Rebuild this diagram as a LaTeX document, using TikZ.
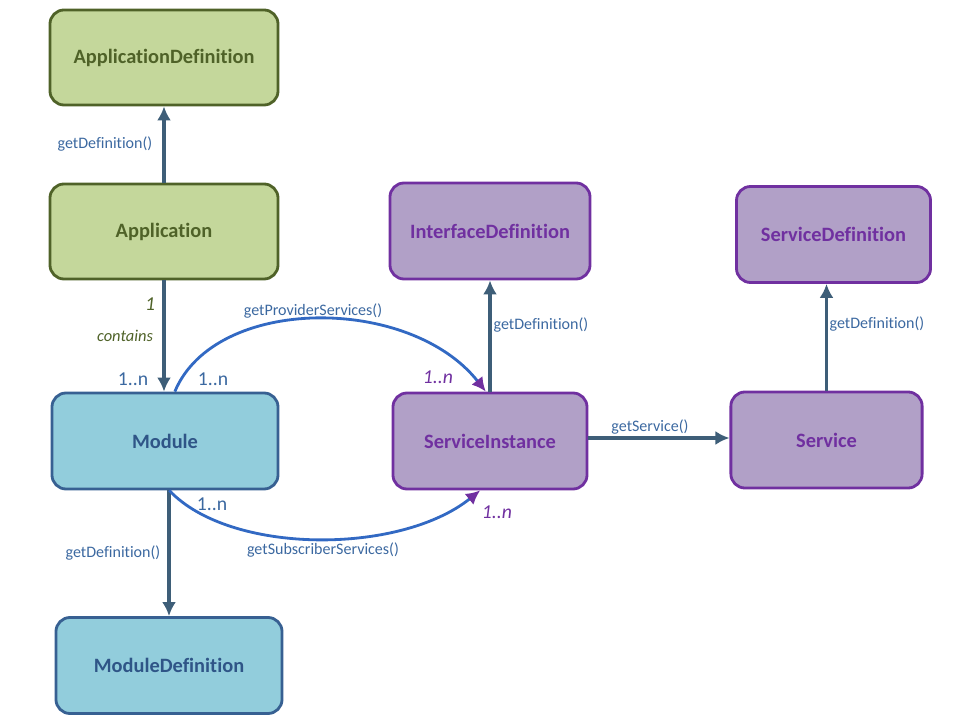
\documentclass[tikz,border=0pt]{standalone}
\usepackage{fontspec}
\setmainfont{Carlito}[Ligatures={NoCommon}]
\usetikzlibrary{arrows.meta}
\definecolor{figVerde}{RGB}{196,215,155}
\definecolor{figVerdeBorde}{RGB}{79,98,40}
\definecolor{figAzul}{RGB}{146,205,220}
\definecolor{figAzulBorde}{RGB}{55,96,146}
\definecolor{figAzulTexto}{RGB}{47,85,135}
\definecolor{figVioleta}{RGB}{177,160,199}
\definecolor{figVioletaBorde}{RGB}{112,48,160}
\definecolor{figFlecha}{RGB}{62,94,120}
\definecolor{figCurva}{RGB}{50,105,195}
\definecolor{figEtiqueta}{RGB}{59,104,160}
\tikzset{
  bloquev/.style={
    rectangle, rounded corners=10pt, draw=figVerdeBorde, line width=2pt,
    fill=figVerde, text=figVerdeBorde, minimum height=2.375cm, minimum width=5.7cm,
    align=center, font=\fontsize{14.5}{17}\selectfont\bfseries, inner sep=4pt
  },
  bloquea/.style={
    rectangle, rounded corners=10pt, draw=figAzulBorde, line width=2pt,
    fill=figAzul, text=figAzulTexto, minimum height=2.4cm, minimum width=5.65cm,
    align=center, font=\fontsize{14.5}{17}\selectfont\bfseries, inner sep=4pt
  },
  bloquei/.style={
    rectangle, rounded corners=10pt, draw=figVioletaBorde, line width=2pt,
    fill=figVioleta, text=figVioletaBorde, minimum height=2.4cm, minimum width=4.85cm,
    align=center, font=\fontsize{14.5}{17}\selectfont\bfseries, inner sep=4pt
  },
  flecha/.style={-{Latex[length=10pt,width=10pt]}, line width=2.2pt, draw=figFlecha},
  curva/.style={-{Latex[length=10pt,width=10pt,color=figVioletaBorde]}, line width=2pt, draw=figCurva},
  etiqueta/.style={font=\fontsize{11.4}{13}\selectfont, text=figEtiqueta, inner sep=1pt},
  cardv/.style={font=\fontsize{11.7}{14}\selectfont\itshape, text=figVerdeBorde, inner sep=1pt},
  cardi/.style={font=\fontsize{14}{16}\selectfont\itshape, text=figVioletaBorde, inner sep=1pt},
  carda/.style={font=\fontsize{14}{16}\selectfont, text=figEtiqueta, inner sep=1pt}
}
\begin{document}
\begin{tikzpicture}[x=0.025cm, y=-0.025cm]
  \useasboundingbox (0,0) rectangle (960,720);
  % bloques
  \node[bloquev] (appdef) at (164,57.5) {ApplicationDefinition};
  \node[bloquev] (app) at (164,231.5) {Application};
  \node[bloquea] (mod) at (165,441) {Module};
  \node[bloquea] (moddef) at (169,665.5) {ModuleDefinition};
  \node[bloquei, minimum width=5cm] (idef) at (490,231) {InterfaceDefinition};
  \node[bloquei] (si) at (490,441) {ServiceInstance};
  \node[bloquei] (sdef) at (833.5,234.5) {ServiceDefinition};
  \node[bloquei, minimum width=4.78cm] (svc) at (826.5,440) {Service};
  % conexiones
  \draw[flecha] (app.north) -- (appdef.south);
  \draw[flecha] (app.south) -- (app.south |- mod.north);
  \draw[flecha] (moddef.north |- mod.south) -- (moddef.north);
  \draw[flecha] (si.north) -- (idef.south);
  \draw[flecha] (svc.north) -- (svc.north |- sdef.south);
  \draw[flecha] (si.east |- 0,438) -- (svc.west |- 0,438);
  \draw[curva] ([xshift=7]mod.north) .. controls (215,295) and (410,295) .. ([xshift=-3]si.north);
  \draw[curva] ([xshift=3]mod.south) .. controls (230,555) and (400,555) .. ([xshift=-7]si.south);
  % etiquetas
  \node[etiqueta] (l1) at (105,144) {getDefinition()};
  \node[cardv, font=\fontsize{14}{16}\selectfont\itshape] (l2) at (150,304) {1};
  \node[cardv] (l3) at (125,336) {contains};
  \node[carda] (l4) at (133,379) {1..n};
  \node[carda] (l5) at (213,379) {1..n};
  \node[etiqueta] (l6) at (313,311) {getProviderServices()};
  \node[cardi] (l7) at (438,377) {1..n};
  \node[etiqueta] (l8) at (541,325) {getDefinition()};
  \node[etiqueta] (l9) at (650,427) {getService()};
  \node[etiqueta] (l10) at (877,324) {getDefinition()};
  \node[carda] (l11) at (212,504) {1..n};
  \node[cardi] (l12) at (497,512) {1..n};
  \node[etiqueta] (l13) at (323,550) {getSubscriberServices()};
  \node[etiqueta] (l14) at (113,553) {getDefinition()};
\end{tikzpicture}
\end{document}
